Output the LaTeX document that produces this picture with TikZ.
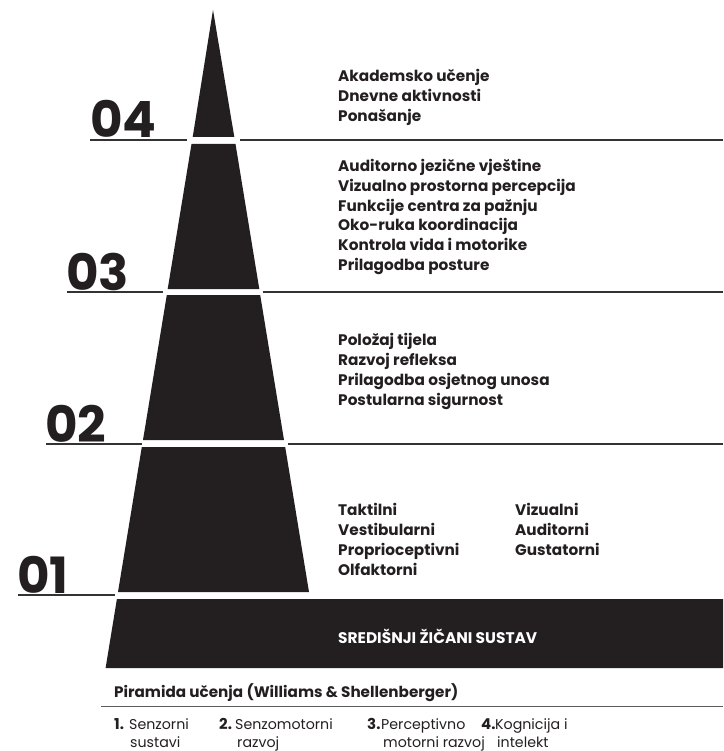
\documentclass[tikz,border=0pt]{standalone}
\usepackage{fontspec}
\setmainfont{Poppins}
\definecolor{ink}{HTML}{231F20}
\definecolor{rulegray}{HTML}{333333}
\begin{document}
\begin{tikzpicture}[x=1pt,y=-1pt,
  seg/.style={fill=ink,draw=none},
  rule/.style={draw=rulegray,line width=1.2pt},
  num/.style={anchor=base west,inner sep=0pt,text=ink,font=\fontsize{50}{50}\selectfont\bfseries},
  item/.style={anchor=base west,inner sep=0pt,text=ink,font=\fontsize{15.3}{16}\selectfont\bfseries},
  band/.style={anchor=base west,inner sep=0pt,text=white,font=\fontsize{15.4}{16}\selectfont\bfseries},
  title/.style={anchor=base west,inner sep=0pt,text=ink,font=\fontsize{15.2}{16}\selectfont\bfseries},
  lnum/.style={anchor=base west,inner sep=0pt,text=ink,font=\fontsize{15}{16}\selectfont\bfseries},
  ltext/.style={anchor=base west,inner sep=0pt,text=ink,font=\fontsize{14.2}{15}\selectfont}]
\useasboundingbox (0,0) rectangle (723,751);
% pyramid segments
\fill[seg] (213,10) -- (234.3,137) -- (192.7,137) -- cycle;
\fill[seg] (191.5,144) -- (235.5,144) -- (259.3,289) -- (167.7,289) -- cycle;
\fill[seg] (166.8,295) -- (260.2,295) -- (284.0,440) -- (143.0,440) -- cycle;
\fill[seg] (141.8,447) -- (285.2,447) -- (309.0,592) -- (118.0,592) -- cycle;
\fill[seg] (116.9,599) -- (723,599) -- (723,668) -- (105.6,668) -- cycle;
% level rules
\draw[rule] (90,140) -- (187,140);
\draw[rule] (240,140) -- (723,140);
\draw[rule] (67,292) -- (163,292);
\draw[rule] (263,292) -- (723,292);
\draw[rule] (46,444) -- (142,444);
\draw[rule] (288,444) -- (723,444);
\draw[rule] (18,595) -- (115,595);
% level numbers
\node[num] (n4) at (90,138) {04};
\node[num] (n3) at (66,290) {03};
\node[num] (n2) at (45,442) {02};
\node[num] (n1) at (17,593) {01};
% level 4
\foreach \t [count=\i] in {Akademsko učenje,Dnevne aktivnosti,Ponašanje}
  \node[item] (a\i) at (338,{82+19.6*(\i-1)}) {\t};
% level 3
\foreach \t [count=\i] in {Auditorno jezične vještine,Vizualno prostorna percepcija,Funkcije centra za pažnju,Oko-ruka koordinacija,Kontrola vida i motorike,Prilagodba posture}
  \node[item] (b\i) at (338,{172+19.6*(\i-1)}) {\t};
% level 2
\foreach \t [count=\i] in {Položaj tijela,Razvoj refleksa,Prilagodba osjetnog unosa,Postularna sigurnost}
  \node[item] (c\i) at (338,{345+20*(\i-1)}) {\t};
% level 1
\foreach \t [count=\i] in {Taktilni,Vestibularni,Proprioceptivni,Olfaktorni}
  \node[item] (d\i) at (338,{515+20*(\i-1)}) {\t};
\foreach \t [count=\i] in {Vizualni,Auditorni,Gustatorni}
  \node[item] (e\i) at (515,{515+20*(\i-1)}) {\t};
% band
\node[band] (cns) at (338,643) {SREDIŠNJI ŽIČANI SUSTAV};
% caption
\node[title] (cap) at (114,697) {Piramida učenja (Williams \& Shellenberger)};
\draw[draw=rulegray!80,line width=1pt] (101,706) -- (723,706);
\node[lnum] (k1) at (114,729) {1.};
\node[ltext] (s1a) at (129,729) {Senzorni};
\node[ltext] (s1b) at (130,747) {sustavi};
\node[lnum] (k2) at (219,729) {2.};
\node[ltext] (s2a) at (235,729) {Senzomotorni};
\node[ltext] (s2b) at (237,747) {razvoj};
\node[lnum] (k3) at (367,729) {3.};
\node[ltext] (s3a) at (381,729) {Perceptivno};
\node[ltext] (s3b) at (383,747) {motorni razvoj};
\node[lnum] (k4) at (481,729) {4.};
\node[ltext] (s4a) at (495,729) {Kognicija i};
\node[ltext] (s4b) at (497,747) {intelekt};
\end{tikzpicture}
\end{document}
